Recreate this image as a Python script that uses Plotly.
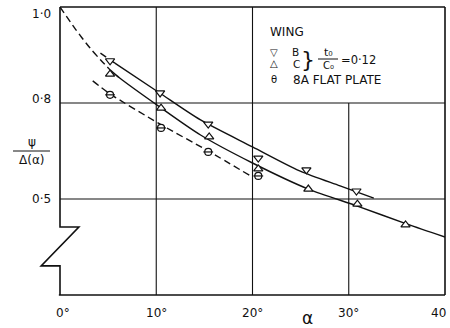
import numpy as np
import plotly.graph_objects as go

# Measured points: incidence alpha (deg) against psi / Delta(alpha)
alpha_b = [5.2, 10.4, 15.4, 20.6, 25.6, 30.8]
ratio_b = [0.888, 0.821, 0.734, 0.628, 0.591, 0.525]

alpha_c = [5.2, 10.5, 15.5, 20.6, 25.8, 30.9, 35.9]
ratio_c = [0.860, 0.784, 0.694, 0.594, 0.531, 0.484, 0.419]

alpha_8a = [5.2, 10.5, 15.4, 20.6]
ratio_8a = [0.817, 0.722, 0.647, 0.572]

# Faired curves through each set of points
curve_b_alpha = [4.2, 5.7, 10.2, 14.6, 20.0, 24.9, 29.1, 32.6]
curve_b_ratio = [0.904, 0.883, 0.823, 0.747, 0.663, 0.588, 0.541, 0.503]
curve_b_dashed_until = 1

curve_c_alpha = [0.0, 1.6, 3.1, 4.2, 5.2, 6.2, 10.2, 14.6, 20.0, 25.8, 30.9, 36.0, 40.0]
curve_c_ratio = [1.0, 0.954, 0.915, 0.890, 0.869, 0.852, 0.791, 0.700, 0.6125, 0.531, 0.478, 0.422, 0.381]
curve_c_dashed_until = 4

curve_8a_alpha = [3.4, 5.2, 10.4, 15.4, 19.8]
curve_8a_ratio = [0.846, 0.819, 0.734, 0.650, 0.572]

x_ticks = [0, 10, 20, 30, 40]
x_tick_text = ["0°", "10°", "20°", "30°", "40"]
y_ticks = [1.0, 0.8, 0.5]
y_tick_text = ["1·0", "0·8", "0·5"]

# The ordinate is drawn on a broken scale: equal grid spacing for 1.0-0.8,
# 0.8-0.5 and the truncated strip below 0.5.
SCALE_VALUES = [0.2, 0.5, 0.8, 1.0]
SCALE_POS = [-1.0, 0.0, 1.0, 2.0]


def to_axis(v):
    return np.interp(np.asarray(v, dtype=float), SCALE_VALUES, SCALE_POS)


INK = "#111111"
FONT = "DejaVu Sans"
DASH = "7px,4px"

fig = go.Figure()


def add_line(xs, ys, dash=None):
    fig.add_trace(go.Scatter(
        x=xs, y=to_axis(ys), mode="lines",
        line=dict(color=INK, width=1.4, dash=dash, shape="spline", smoothing=0.8),
        hoverinfo="skip", showlegend=False))


# wing B
add_line(curve_b_alpha[:curve_b_dashed_until + 1], curve_b_ratio[:curve_b_dashed_until + 1], DASH)
add_line(curve_b_alpha[curve_b_dashed_until:], curve_b_ratio[curve_b_dashed_until:])
# wing C
add_line(curve_c_alpha[:curve_c_dashed_until + 1], curve_c_ratio[:curve_c_dashed_until + 1], DASH)
add_line(curve_c_alpha[curve_c_dashed_until:], curve_c_ratio[curve_c_dashed_until:])
# 8A flat plate
add_line(curve_8a_alpha, curve_8a_ratio, DASH)


def add_points(xs, ys, symbol, size=7):
    fig.add_trace(go.Scatter(
        x=xs, y=to_axis(ys), mode="markers",
        marker=dict(symbol=symbol, size=size, color="white",
                    line=dict(color=INK, width=1.2)),
        showlegend=False))


add_points(alpha_b, ratio_b, "triangle-down", 8)
add_points(alpha_c, ratio_c, "triangle-up", 8)
add_points(alpha_8a, ratio_8a, "circle", 7)
add_points(alpha_8a, ratio_8a, "line-ew", 7)

shapes = []
frame = dict(color=INK, width=1.6)
grid = dict(color=INK, width=1.1)

# grid lines
for xv in (10, 20):
    shapes.append(dict(type="line", xref="x", yref="paper", x0=xv, x1=xv, y0=0, y1=1, line=grid))
shapes.append(dict(type="line", xref="x", yref="y", x0=30, x1=30,
                   y0=float(to_axis(0.2)), y1=float(to_axis(0.8)), line=grid))
for yv in (0.8, 0.5):
    yy = float(to_axis(yv))
    shapes.append(dict(type="line", xref="paper", yref="y", x0=0, x1=1, y0=yy, y1=yy, line=grid))

# frame with the broken ordinate
shapes.append(dict(type="line", xref="paper", yref="paper", x0=0, x1=1, y0=1, y1=1, line=frame))
shapes.append(dict(type="line", xref="paper", yref="paper", x0=1, x1=1, y0=0, y1=1, line=frame))
shapes.append(dict(type="line", xref="paper", yref="paper", x0=-0.003, x1=1, y0=0, y1=0, line=frame))
shapes.append(dict(type="path", xref="paper", yref="paper",
                   path="M 0 1 L 0 0.236 L 0.049 0.236 L -0.049 0.101 L 0 0.101 L 0 0",
                   line=frame))

# fraction bar of the ordinate title
shapes.append(dict(type="line", xref="paper", yref="paper",
                   x0=-0.122, x1=-0.026, y0=0.5, y1=0.5, line=dict(color=INK, width=1)))

annotations = []
for xv, txt in zip(x_ticks, x_tick_text):
    anchor = "right" if xv == 40 else "center"
    shift = 3 if xv in (0, 40) else 0
    annotations.append(dict(x=xv, y=0, xref="x", yref="paper", text=txt, showarrow=False,
                            xanchor=anchor, yanchor="top", yshift=-9, xshift=shift,
                            font=dict(family=FONT, size=12, color=INK)))
for yv, txt, ys in zip(y_ticks, y_tick_text, (-7, 4, 0)):
    annotations.append(dict(x=0, y=float(to_axis(yv)), xref="paper", yref="y", text=txt,
                            showarrow=False, xanchor="right", yanchor="middle",
                            xshift=-7, yshift=ys, font=dict(family=FONT, size=12, color=INK)))

annotations.append(dict(x=-0.074, y=0.5, xref="paper", yref="paper", text="ψ", showarrow=False,
                        xanchor="center", yanchor="bottom", yshift=0,
                        font=dict(family=FONT, size=12, color=INK)))
annotations.append(dict(x=-0.074, y=0.5, xref="paper", yref="paper", text="Δ(α)", showarrow=False,
                        xanchor="center", yanchor="top", yshift=0,
                        font=dict(family=FONT, size=12, color=INK)))
annotations.append(dict(x=25.7, y=(295 - 318) / 288, xref="x", yref="paper", text="α",
                        showarrow=False, xanchor="center", yanchor="middle",
                        font=dict(family=FONT, size=17, color=INK)))


# key in the upper right cell
def key_text(px, py, txt, size=11, anchor="left"):
    annotations.append(dict(x=(px - 60) / 385, y=(295 - py) / 288, xref="paper", yref="paper",
                            text=txt, showarrow=False, xanchor=anchor, yanchor="middle",
                            borderpad=0, font=dict(family=FONT, size=size, color=INK)))


key_text(269, 32, "WING", 12)
key_text(274, 52, "▽", 10, "center")
key_text(291, 52, "B", 10.5)
key_text(274, 64, "△", 10, "center")
key_text(292, 64, "C", 10.5)
key_text(274, 79.5, "θ", 10, "center")
key_text(292, 79.5, "8A FLAT PLATE", 12)
key_text(308, 59, "}", 22, "center")
key_text(328, 52, "t₀", 11, "center")
key_text(328, 65.5, "C₀", 10, "center")
key_text(340, 60, "=0·12", 11.5)
shapes.append(dict(type="line", xref="paper", yref="paper",
                   x0=(318 - 60) / 385, x1=(338 - 60) / 385,
                   y0=(295 - 59) / 288, y1=(295 - 59) / 288, line=dict(color=INK, width=1)))

fig.update_layout(
    width=450, height=328,
    margin=dict(l=60, r=5, t=7, b=33),
    paper_bgcolor="white", plot_bgcolor="white",
    xaxis=dict(range=[0, 40], showgrid=False, zeroline=False, showline=False,
               showticklabels=False, ticks=""),
    yaxis=dict(range=[-1, 2], showgrid=False, zeroline=False, showline=False,
               showticklabels=False, ticks=""),
    shapes=shapes, annotations=annotations,
    showlegend=False,
)

fig.write_html("out.html")
